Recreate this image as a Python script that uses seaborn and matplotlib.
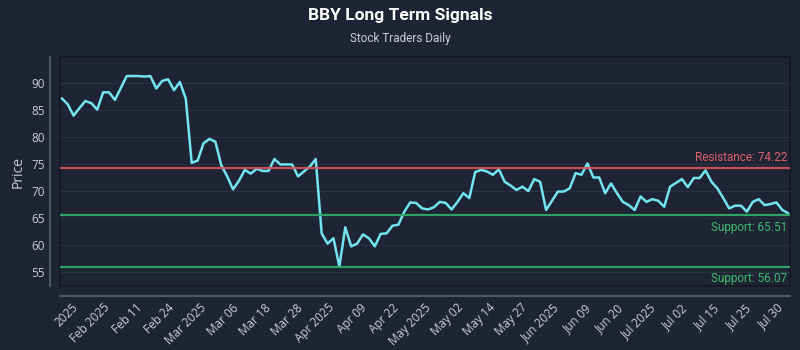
import numpy as np
import pandas as pd
import matplotlib
matplotlib.use("Agg")
import matplotlib.pyplot as plt
import seaborn as sns

# closing prices, one per trading session
prices = [
    87.1, 86.0, 83.9, 85.3, 86.6, 86.2, 85.0, 88.2, 88.2, 86.8,
    89.0, 91.2, 91.2, 91.2, 91.1, 91.2, 88.9, 90.3, 90.6, 88.6,
    90.1, 87.0, 75.2, 75.6, 78.8, 79.6, 79.1, 74.8, 72.7, 70.3,
    71.9, 73.9, 73.2, 74.1, 73.7, 73.7, 75.9, 74.9, 74.9, 74.9,
    72.7, 73.6, 74.5, 75.9, 62.2, 60.3, 61.3, 56.1, 63.3, 59.8,
    60.3, 62.0, 61.3, 59.8, 62.1, 62.2, 63.6, 63.8, 66.2, 67.9,
    67.8, 66.8, 66.6, 67.0, 68.0, 67.8, 66.6, 68.0, 69.6, 68.7,
    73.5, 73.9, 73.6, 73.0, 74.0, 71.7, 71.0, 70.2, 70.8, 70.0,
    72.2, 71.7, 66.5, 68.2, 69.9, 69.9, 70.5, 73.3, 73.0, 75.1,
    72.5, 72.5, 69.6, 71.4, 69.6, 68.0, 67.4, 66.5, 69.0, 68.0,
    68.5, 68.2, 67.1, 70.8, 71.5, 72.2, 70.7, 72.4, 72.4, 73.8,
    71.7, 70.5, 68.7, 66.8, 67.3, 67.3, 66.2, 68.0, 68.5, 67.4,
    67.6, 67.9, 66.5, 65.9,
]

tick_labels = [
    "2025", "Feb 2025", "Feb 11", "Feb 24", "Mar 2025", "Mar 06", "Mar 18",
    "Mar 28", "Apr 2025", "Apr 09", "Apr 22", "May 2025", "May 02", "May 14",
    "May 27", "Jun 2025", "Jun 09", "Jun 20", "Jul 2025", "Jul 02", "Jul 15",
    "Jul 25", "Jul 30",
]

resistance = [74.22]
support = [65.51, 56.07]

BG = "#1e2433"
TEXT = "#c9ced8"
LINE = "#72e4f2"
RED = "#d8555e"
GREEN = "#2fa866"
NARROW = ["Roboto", "DejaVu Sans"]

sns.set_theme(style="dark", rc={
    "figure.facecolor": BG,
    "axes.facecolor": BG,
    "axes.edgecolor": "#596170",
    "axes.labelcolor": TEXT,
    "xtick.color": TEXT,
    "ytick.color": TEXT,
    "text.color": TEXT,
    "grid.color": "#2a3142",
})
plt.rcParams["font.family"] = ["Open Sans", "DejaVu Sans"]

df = pd.DataFrame({"idx": np.arange(len(prices)), "price": prices})

fig = plt.figure(figsize=(8, 3.5), dpi=100)
ax = fig.add_axes([0.075, 0.183, 0.9125, 0.654])

sns.lineplot(data=df, x="idx", y="price", ax=ax, color=LINE, linewidth=1.8)

# offset spines first: moving a spine resets the tick objects
sns.despine(ax=ax, offset=7)
ax.patch.set_edgecolor("#131722")
ax.patch.set_linewidth(1.2)

for r in resistance:
    ax.axhline(r, color=RED, linewidth=1.6, alpha=0.9)
    ax.annotate(f"Resistance: {r:.2f}", xy=(0.996, r), xycoords=("axes fraction", "data"),
                xytext=(0, 3), textcoords="offset points", ha="right", va="bottom",
                color="#e0606c", fontsize=8.5, family=NARROW)
for s in support:
    ax.axhline(s, color=GREEN, linewidth=1.6, alpha=0.95)
    ax.annotate(f"Support: {s:.2f}", xy=(0.996, s), xycoords=("axes fraction", "data"),
                xytext=(0, -4), textcoords="offset points", ha="right", va="top",
                color="#3dba6e", fontsize=8.5, family=NARROW)

ax.set_xlim(-0.3, len(prices) - 0.7)
ax.set_ylim(52.5, 94.7)
ax.set_yticks([55, 60, 65, 70, 75, 80, 85, 90])
ax.yaxis.grid(True, linewidth=0.8)
ax.xaxis.grid(False)

ax.set_xticks(np.linspace(3.2, 122.7, len(tick_labels)))
ax.set_xticklabels(tick_labels)
ax.tick_params(axis="both", labelsize=8.5, length=0, pad=4)
plt.setp(ax.get_xticklabels(), rotation=45, ha="right")
ax.set_xlabel("")
ax.set_ylabel("Price", fontsize=10)

fig.text(0.5, 0.957, "BBY Long Term Signals", ha="center", va="center", color="white",
         fontsize=12.5, fontweight="bold", family=NARROW)
fig.text(0.5, 0.891, "Stock Traders Daily", ha="center", va="center", color=TEXT,
         fontsize=8.5, family=NARROW)

fig.savefig("out.png", dpi=100, facecolor=BG)
